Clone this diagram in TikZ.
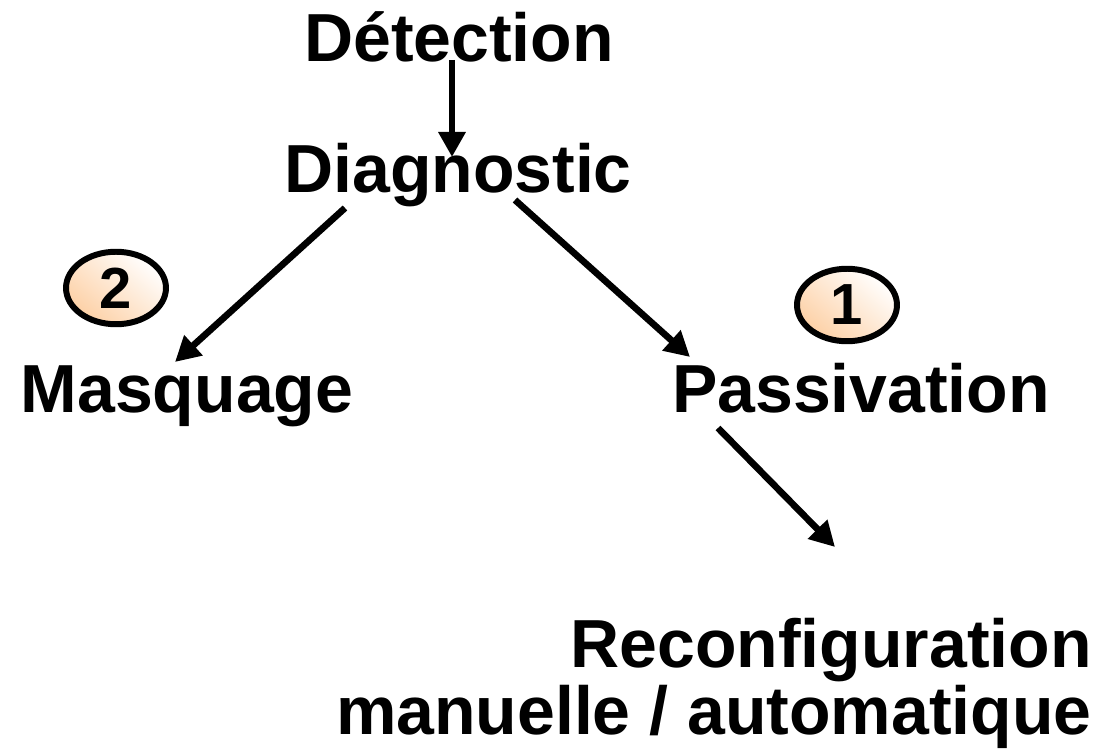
\documentclass[tikz,border=0pt]{standalone}
\usepackage{fontspec}
\setmainfont{Liberation Sans}
\usetikzlibrary{arrows.meta,calc,shapes.geometric}
\definecolor{peach}{RGB}{253,208,165}
\tikzset{
  label text/.style={font=\fontsize{38.7pt}{38.7pt}\selectfont\bfseries, inner sep=0pt},
  flow/.style={line width=3.8pt, -{Triangle[length=0.5cm,width=0.52cm]}},
  badge/.style={ellipse, draw=black, line width=3.4pt, minimum width=2.0cm, minimum height=1.45cm,
    inner sep=0pt, shading=axis, top color=white, bottom color=peach,
    shading angle=-40, font=\fontsize{33pt}{36pt}\selectfont\bfseries}
}
\begin{document}
\begin{tikzpicture}[x=0.02cm, y=-0.02cm]
  \useasboundingbox (0,0) rectangle (1100,756);
  % stage labels
  \node[label text, anchor=base] (det) at (459,62) {Détection};
  \node[label text, anchor=base] (diag) at (458,193) {Diagnostic};
  \node[label text, anchor=base] (masq) at (187,413) {Masquage};
  \node[label text, anchor=base] (pass) at (861,413) {Passivation};
  \node[label text, anchor=base east, align=right] (reconf) at (1092,735) {Reconfiguration\\manuelle / automatique};
  % numbered badges
  \node[badge] (b2) at (116,288) {2};
  \node[badge] (b1) at (847,305) {1};
  % flow arrows
  \draw[flow] ($(det.base)+(-7,-2)$) -- ($(diag.base)+(-6,-36)$);
  \draw[flow] ($(diag.base)+(-113,15)$) -- ($(masq.base)+(-12,-51)$);
  \draw[flow] ($(diag.base)+(57,7)$) -- ($(pass.base)+(-171,-56)$);
  \draw[flow] ($(pass.base)+(-143,15)$) -- ($(reconf.base east)+(-257,-188)$);
\end{tikzpicture}
\end{document}
